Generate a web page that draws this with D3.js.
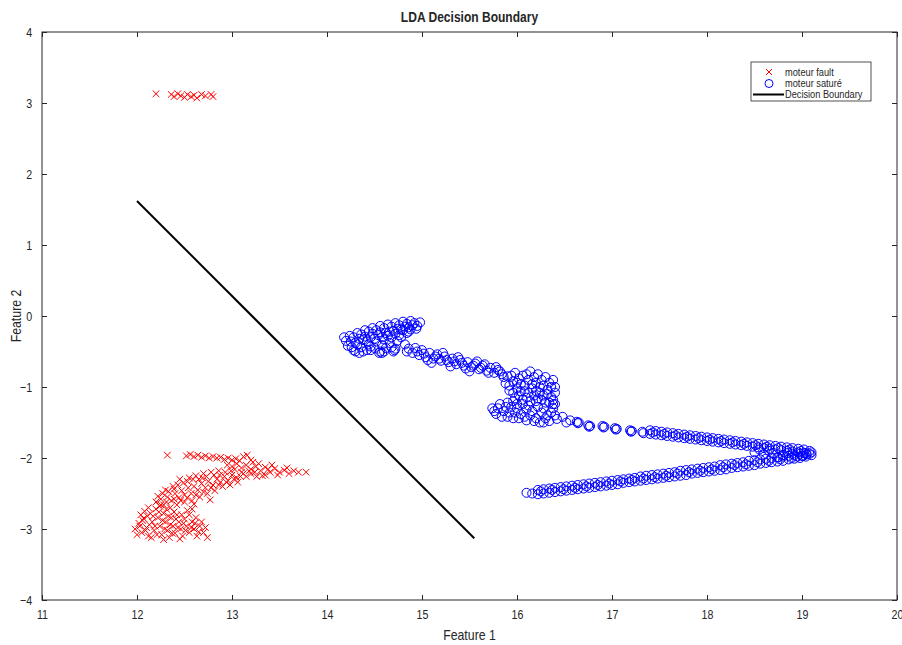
<!DOCTYPE html>
<html>
<head>
<meta charset="utf-8">
<script src="https://cdn.jsdelivr.net/npm/d3@7"></script>
<style>
body { margin: 0; background: #fff; }
svg { display: block; }
text { font-family: "Liberation Sans", Arial, sans-serif; fill: #262626; }
</style>
</head>
<body>
<svg id="chart" width="902" height="645"></svg>
<script>
const xTicks = [11, 12, 13, 14, 15, 16, 17, 18, 19, 20]
const yTicks = [-4, -3, -2, -1, 0, 1, 2, 3, 4]

// moteur fault
const faultTop = [
    [12.2, 3.13], [12.36, 3.12], [12.39, 3.09], [12.43, 3.13], [12.46, 3.1], [12.5, 3.08],
    [12.53, 3.12], [12.57, 3.09], [12.6, 3.11], [12.63, 3.07], [12.68, 3.12], [12.72, 3.1],
    [12.78, 3.12], [12.8, 3.09]
]
const faultUpperRow = [
    [12.32, -1.96], [12.52, -1.97], [12.56, -1.95], [12.6, -1.98], [12.64, -1.96], [12.68, -1.99],
    [12.72, -1.97], [12.76, -2.0], [12.8, -1.98], [12.84, -2.0], [12.88, -1.99], [12.92, -2.02],
    [12.96, -2.0], [13.0, -2.03], [13.04, -2.01], [13.08, -2.04], [13.12, -1.98], [13.16, -1.96],
    [13.2, -2.03]
]
const faultRightBand = [
    [12.95, -2.1], [13.0, -2.12], [13.05, -2.08], [13.1, -2.14], [13.15, -2.1], [13.2, -2.16],
    [13.25, -2.12], [13.3, -2.18], [13.35, -2.13], [13.4, -2.2], [13.45, -2.15], [13.5, -2.2],
    [13.55, -2.17], [13.6, -2.22], [13.65, -2.18], [13.7, -2.2], [13.78, -2.2], [13.22, -2.06],
    [13.28, -2.08], [13.42, -2.1], [13.12, -2.22], [13.32, -2.25], [13.38, -2.16], [13.48, -2.24],
    [13.58, -2.14], [13.18, -2.18], [13.24, -2.2]
]
const faultDiagonal = [
    [12.2, -2.62], [12.25, -2.58], [12.28, -2.66], [12.32, -2.55], [12.36, -2.6], [12.4, -2.5],
    [12.44, -2.56], [12.47, -2.46], [12.5, -2.52], [12.54, -2.42], [12.57, -2.5], [12.6, -2.4],
    [12.64, -2.45], [12.68, -2.36], [12.72, -2.42], [12.75, -2.33], [12.8, -2.38], [12.84, -2.3],
    [12.88, -2.34], [12.92, -2.26], [12.96, -2.32], [13.0, -2.24], [13.05, -2.28], [13.1, -2.2],
    [13.15, -2.26], [13.2, -2.22], [13.26, -2.26], [13.35, -2.24], [12.35, -2.7], [12.42, -2.66],
    [12.5, -2.62], [12.58, -2.6], [12.66, -2.55], [12.74, -2.5], [12.82, -2.46], [12.9, -2.4],
    [12.98, -2.38], [13.06, -2.34], [12.45, -2.3], [12.55, -2.28], [12.62, -2.25], [12.7, -2.22],
    [12.78, -2.2], [12.86, -2.18], [12.58, -2.72], [12.6, -2.65], [12.3, -2.45], [12.38, -2.4],
    [12.77, -2.59], [12.22, -2.54], [12.27, -2.5], [12.33, -2.47], [12.39, -2.44], [12.43, -2.38],
    [12.49, -2.35], [12.53, -2.33], [12.59, -2.3], [12.65, -2.3], [12.69, -2.28], [12.73, -2.26],
    [12.81, -2.24], [12.87, -2.24], [12.93, -2.2], [12.99, -2.18], [13.03, -2.16], [13.09, -2.26],
    [12.24, -2.68], [12.31, -2.62], [12.39, -2.58], [12.46, -2.6], [12.53, -2.56], [12.62, -2.52],
    [12.7, -2.48], [12.78, -2.42], [12.86, -2.38], [12.94, -2.34], [13.02, -2.3]
]
const faultBlob = [
    [11.98, -3.0], [12.02, -2.92], [12.05, -3.05], [12.07, -2.85], [12.1, -2.98], [12.12, -3.1],
    [12.14, -2.78], [12.16, -2.9], [12.18, -3.02], [12.2, -2.72], [12.22, -2.84], [12.24, -2.96],
    [12.26, -3.08], [12.28, -2.78], [12.3, -2.9], [12.32, -3.02], [12.34, -3.12], [12.36, -2.84],
    [12.38, -2.96], [12.4, -3.06], [12.42, -2.8], [12.44, -2.9], [12.46, -3.0], [12.48, -3.1],
    [12.5, -2.86], [12.52, -2.96], [12.55, -3.05], [12.58, -2.9], [12.6, -3.0], [12.63, -3.1],
    [12.66, -2.96], [12.7, -3.05], [12.74, -3.12], [12.08, -2.75], [12.12, -2.7], [12.25, -2.66],
    [12.04, -2.8], [12.0, -3.08], [12.15, -3.12], [12.45, -3.14], [12.28, -3.15], [12.55, -2.8],
    [12.62, -2.84], [12.03, -2.96], [12.06, -2.88], [12.09, -3.02], [12.11, -2.82], [12.13, -2.94],
    [12.17, -2.82], [12.19, -2.96], [12.21, -3.08], [12.23, -2.76], [12.27, -2.88], [12.29, -3.0],
    [12.31, -2.72], [12.33, -2.82], [12.35, -2.94], [12.37, -3.06], [12.39, -2.76], [12.41, -2.86],
    [12.43, -2.98], [12.47, -2.8], [12.49, -2.92], [12.51, -3.02], [12.53, -2.74], [12.57, -2.98],
    [12.61, -2.92], [12.65, -3.04], [12.68, -2.9], [12.72, -2.98]
]

// moteur saturé
const satureBlobA = [
    [14.2, -0.35], [14.28, -0.3], [14.36, -0.26], [14.44, -0.22], [14.52, -0.2], [14.6, -0.17],
    [14.68, -0.15], [14.76, -0.13], [14.84, -0.11], [14.92, -0.1], [14.22, -0.42], [14.3, -0.38],
    [14.38, -0.34], [14.46, -0.3], [14.54, -0.27], [14.62, -0.24], [14.7, -0.21], [14.78, -0.19],
    [14.86, -0.16], [14.95, -0.14], [14.28, -0.48], [14.36, -0.44], [14.44, -0.4], [14.52, -0.36],
    [14.6, -0.33], [14.68, -0.3], [14.76, -0.27], [14.84, -0.24], [14.34, -0.52], [14.42, -0.48],
    [14.5, -0.45], [14.58, -0.41], [14.66, -0.38], [14.74, -0.35], [14.18, -0.3], [14.25, -0.36],
    [14.4, -0.29], [14.48, -0.25], [14.56, -0.23], [14.64, -0.28], [14.72, -0.25], [14.8, -0.2],
    [14.88, -0.19], [14.32, -0.4], [14.46, -0.43], [14.55, -0.52], [14.56, -0.5], [14.7, -0.5],
    [14.71, -0.48], [14.98, -0.09], [14.24, -0.28], [14.32, -0.24], [14.4, -0.2], [14.48, -0.17],
    [14.56, -0.14], [14.64, -0.12], [14.72, -0.1], [14.8, -0.08], [14.88, -0.07], [14.26, -0.44],
    [14.34, -0.32], [14.42, -0.36], [14.5, -0.32], [14.58, -0.3], [14.66, -0.22], [14.74, -0.18],
    [14.82, -0.15], [14.9, -0.13], [14.3, -0.5], [14.38, -0.5], [14.46, -0.48], [14.62, -0.45],
    [14.78, -0.3], [14.86, -0.22], [14.94, -0.18], [14.6, -0.5], [14.58, -0.52], [14.72, -0.46],
    [14.68, -0.44]
]
const satureChain = [
    [14.82, -0.4], [14.86, -0.46], [14.9, -0.52], [14.93, -0.45], [14.97, -0.55], [15.0, -0.48],
    [15.04, -0.58], [15.08, -0.52], [15.12, -0.6], [15.16, -0.54], [15.2, -0.63], [15.24, -0.57],
    [15.28, -0.65], [15.32, -0.6], [15.36, -0.68], [15.4, -0.62], [15.44, -0.7], [15.48, -0.65],
    [15.52, -0.72], [15.56, -0.67], [15.6, -0.75], [15.64, -0.7], [15.68, -0.77], [15.72, -0.73],
    [15.76, -0.8], [15.8, -0.76], [15.84, -0.82], [15.1, -0.66], [15.3, -0.71], [15.5, -0.78],
    [14.84, -0.5], [14.95, -0.5], [15.02, -0.53], [15.06, -0.62], [15.14, -0.57], [15.18, -0.6],
    [15.22, -0.52], [15.26, -0.62], [15.34, -0.64], [15.38, -0.58], [15.42, -0.66], [15.46, -0.74],
    [15.54, -0.7], [15.58, -0.64], [15.62, -0.73], [15.66, -0.68], [15.7, -0.8], [15.78, -0.72],
    [15.82, -0.78], [15.86, -0.86]
]
const satureBlobB = [
    [15.9, -0.85], [15.98, -0.8], [16.06, -0.84], [16.14, -0.78], [16.22, -0.82], [16.3, -0.86],
    [16.38, -0.9], [15.88, -0.95], [15.96, -0.92], [16.04, -0.96], [16.12, -0.9], [16.2, -0.94],
    [16.28, -0.98], [16.36, -1.0], [16.4, -1.08], [15.92, -1.05], [16.0, -1.02], [16.08, -1.06],
    [16.16, -1.02], [16.24, -1.08], [16.32, -1.1], [16.02, -1.12], [16.1, -1.15], [16.18, -1.12],
    [16.26, -1.18], [16.38, -1.18], [15.74, -1.3], [15.78, -1.38], [15.82, -1.24], [15.86, -1.34],
    [15.9, -1.42], [15.94, -1.28], [15.98, -1.36], [16.02, -1.44], [16.06, -1.24], [16.1, -1.32],
    [16.14, -1.4], [16.18, -1.48], [16.22, -1.28], [16.26, -1.36], [16.3, -1.44], [16.34, -1.22],
    [16.38, -1.3], [15.96, -1.2], [16.2, -1.2], [16.28, -1.5], [16.1, -1.47], [16.4, -1.4],
    [15.94, -0.84], [16.02, -0.88], [16.1, -0.82], [16.18, -0.86], [16.26, -0.9], [16.34, -0.94],
    [15.92, -0.98], [16.0, -0.94], [16.08, -0.98], [16.16, -0.96], [16.24, -1.0], [16.32, -1.04],
    [16.4, -1.0], [15.96, -1.08], [16.04, -1.06], [16.12, -1.08], [16.2, -1.06], [16.28, -1.12],
    [16.36, -1.14], [15.98, -1.16], [16.06, -1.18], [16.14, -1.2], [16.22, -1.16], [16.3, -1.22],
    [16.38, -1.24], [15.76, -1.34], [15.8, -1.3], [15.84, -1.42], [15.88, -1.28], [15.92, -1.36],
    [15.96, -1.44], [16.0, -1.3], [16.04, -1.38], [16.08, -1.42], [16.12, -1.26], [16.16, -1.34],
    [16.2, -1.44], [16.24, -1.5], [16.28, -1.3], [16.32, -1.4], [16.36, -1.36], [16.4, -1.24],
    [15.9, -1.22], [16.0, -1.24], [16.34, -1.48]
]
const satureTail = [
    [16.42, -1.45], [16.48, -1.42], [16.52, -1.5], [16.56, -1.47], [16.63, -1.49], [16.64, -1.51],
    [16.65, -1.5], [16.75, -1.54], [16.76, -1.56], [16.77, -1.55], [16.9, -1.55], [16.91, -1.57],
    [16.92, -1.56], [17.03, -1.58], [17.04, -1.6], [17.05, -1.59], [17.19, -1.61], [17.2, -1.63],
    [17.21, -1.62], [17.32, -1.63], [17.33, -1.65]
]
const satureUpperBand = [
    [17.4, -1.61], [17.4, -1.66], [17.46, -1.62], [17.46, -1.67], [17.52, -1.63], [17.52, -1.68],
    [17.58, -1.64], [17.58, -1.69], [17.64, -1.65], [17.64, -1.7], [17.7, -1.66], [17.7, -1.71],
    [17.76, -1.67], [17.76, -1.72], [17.82, -1.68], [17.82, -1.73], [17.88, -1.69], [17.88, -1.74],
    [17.94, -1.7], [17.94, -1.75], [18.0, -1.71], [18.0, -1.76], [18.06, -1.72], [18.06, -1.77],
    [18.12, -1.73], [18.12, -1.78], [18.18, -1.74], [18.18, -1.79], [18.24, -1.75], [18.24, -1.8],
    [18.3, -1.76], [18.3, -1.81], [18.36, -1.77], [18.36, -1.82], [18.42, -1.78], [18.42, -1.83],
    [18.48, -1.79], [18.48, -1.84], [18.54, -1.8], [18.54, -1.85], [18.6, -1.81], [18.6, -1.86],
    [18.66, -1.82], [18.66, -1.87], [18.72, -1.83], [18.72, -1.88], [18.78, -1.84], [18.78, -1.89],
    [18.84, -1.85], [18.84, -1.9], [18.9, -1.86], [18.9, -1.91], [18.96, -1.87], [18.96, -1.92],
    [19.02, -1.88], [19.02, -1.93], [19.08, -1.9], [19.08, -1.94], [18.5, -1.92], [18.6, -1.95],
    [18.7, -1.93], [18.8, -1.96], [18.9, -1.94], [19.0, -1.97], [18.55, -1.88], [18.65, -1.9],
    [18.75, -1.99], [18.85, -1.93], [18.95, -1.98], [19.05, -1.95], [17.43, -1.64], [17.55, -1.66],
    [17.67, -1.68], [17.79, -1.7], [17.91, -1.72], [18.03, -1.74], [18.15, -1.76], [18.27, -1.78],
    [18.39, -1.8], [18.51, -1.82], [18.63, -1.84], [18.75, -1.86], [18.87, -1.88], [18.99, -1.9]
]
const satureLowerBand = [
    [16.1, -2.49], [16.16, -2.5], [16.22, -2.45], [16.22, -2.51], [16.28, -2.44], [16.28, -2.5],
    [16.34, -2.43], [16.34, -2.49], [16.4, -2.42], [16.4, -2.48], [16.46, -2.41], [16.46, -2.47],
    [16.52, -2.4], [16.52, -2.46], [16.58, -2.39], [16.58, -2.45], [16.64, -2.38], [16.64, -2.44],
    [16.7, -2.37], [16.7, -2.43], [16.76, -2.36], [16.76, -2.42], [16.82, -2.35], [16.82, -2.41],
    [16.88, -2.34], [16.88, -2.4], [16.94, -2.33], [16.94, -2.39], [17.0, -2.32], [17.0, -2.38],
    [17.06, -2.31], [17.06, -2.37], [17.12, -2.3], [17.12, -2.35], [17.18, -2.29], [17.18, -2.34],
    [17.24, -2.28], [17.24, -2.33], [17.3, -2.26], [17.3, -2.32], [17.36, -2.25], [17.36, -2.31],
    [17.42, -2.24], [17.42, -2.3], [17.48, -2.23], [17.48, -2.29], [17.54, -2.22], [17.54, -2.28],
    [17.6, -2.21], [17.6, -2.27], [17.66, -2.2], [17.66, -2.26], [17.72, -2.18], [17.72, -2.25],
    [17.78, -2.17], [17.78, -2.24], [17.84, -2.16], [17.84, -2.22], [17.9, -2.15], [17.9, -2.21],
    [17.96, -2.14], [17.96, -2.2], [18.02, -2.13], [18.02, -2.19], [18.08, -2.12], [18.08, -2.18],
    [18.14, -2.1], [18.14, -2.17], [18.2, -2.09], [18.2, -2.16], [18.26, -2.08], [18.26, -2.14],
    [18.32, -2.07], [18.32, -2.13], [18.38, -2.06], [18.38, -2.12], [18.44, -2.04], [18.44, -2.11],
    [18.5, -2.03], [18.5, -2.1], [18.56, -2.02], [18.56, -2.08], [18.62, -2.01], [18.62, -2.07],
    [18.68, -2.0], [18.68, -2.06], [18.74, -1.99], [18.74, -2.05], [18.8, -1.98], [18.8, -2.04],
    [18.86, -1.97], [18.86, -2.02], [18.92, -1.96], [18.92, -2.01], [18.98, -1.94], [18.98, -2.0],
    [19.04, -1.93], [19.04, -1.98], [19.1, -1.92], [19.1, -1.96], [16.25, -2.47], [16.37, -2.45],
    [16.49, -2.44], [16.61, -2.42], [16.73, -2.4], [16.85, -2.38], [16.97, -2.36], [17.09, -2.33],
    [17.21, -2.31], [17.33, -2.29], [17.45, -2.27], [17.57, -2.25], [17.69, -2.22], [17.81, -2.2],
    [17.93, -2.18], [18.05, -2.16], [18.17, -2.13], [18.29, -2.1], [18.41, -2.09], [18.53, -2.06],
    [18.65, -2.04], [18.77, -2.02], [18.89, -2.0], [19.01, -1.97]
]

const boundaryLine = [[12.0, 1.62], [15.55, -3.13]]

const legendLabels = ['moteur fault', 'moteur saturé', 'Decision Boundary']

const faultPoints = [...faultTop, ...faultUpperRow, ...faultRightBand, ...faultDiagonal, ...faultBlob]
const saturePoints = [...satureBlobA, ...satureChain, ...satureBlobB, ...satureTail,
    ...satureUpperBand, ...satureLowerBand]

const margin = { left: 42, right: 897, top: 32, bottom: 600 }
const axisColor = '#262626'
const squeeze = 0.82 // the reference text is horizontally condensed

const svg = d3.select('#chart')

const x = d3.scaleLinear().domain([11, 20]).range([margin.left, margin.right])
const y = d3.scaleLinear().domain([-4, 4]).range([margin.bottom, margin.top])

// box
svg.append('rect')
    .attr('x', margin.left)
    .attr('y', margin.top)
    .attr('width', margin.right - margin.left)
    .attr('height', margin.bottom - margin.top)
    .attr('fill', '#fff')
    .attr('stroke', axisColor)
    .attr('stroke-width', 1)

function styleAxis(g) {
    g.select('.domain').remove()
    g.selectAll('.tick line').attr('stroke', axisColor)
    g.selectAll('.tick text')
        .attr('fill', axisColor)
        .style('font-size', '13px')
        .attr('transform', `scale(${squeeze},1)`)
}

svg.append('g')
    .attr('transform', `translate(0,${margin.bottom})`)
    .call(d3.axisBottom(x).tickValues(xTicks).tickSizeInner(-5).tickSizeOuter(0).tickPadding(10))
    .call(styleAxis)

svg.append('g')
    .attr('transform', `translate(0,${margin.top})`)
    .call(d3.axisTop(x).tickValues(xTicks).tickSizeInner(-5).tickSizeOuter(0).tickFormat(''))
    .call(styleAxis)

svg.append('g')
    .attr('transform', `translate(${margin.left},0)`)
    .call(d3.axisLeft(y).tickValues(yTicks).tickSizeInner(-5).tickSizeOuter(0).tickPadding(12))
    .call(styleAxis)

svg.append('g')
    .attr('transform', `translate(${margin.right},0)`)
    .call(d3.axisRight(y).tickValues(yTicks).tickSizeInner(-5).tickSizeOuter(0).tickFormat(''))
    .call(styleAxis)

const xMark = (cx, cy, s) => `M${cx - s},${cy - s}L${cx + s},${cy + s}M${cx - s},${cy + s}L${cx + s},${cy - s}`

// fault markers
svg.append('g')
    .selectAll('path')
    .data(faultPoints)
    .enter()
    .append('path')
    .attr('d', d => xMark(x(d[0]), y(d[1]), 3.3))
    .attr('stroke', '#ff0000')
    .attr('stroke-width', 1)
    .attr('fill', 'none')

// saturé markers
svg.append('g')
    .selectAll('circle')
    .data(saturePoints)
    .enter()
    .append('circle')
    .attr('cx', d => x(d[0]))
    .attr('cy', d => y(d[1]))
    .attr('r', 4.5)
    .attr('fill', 'none')
    .attr('stroke', '#0000ff')
    .attr('stroke-width', 1)

// decision boundary
svg.append('path')
    .datum(boundaryLine)
    .attr('d', d3.line().x(d => x(d[0])).y(d => y(d[1])))
    .attr('stroke', '#000')
    .attr('stroke-width', 2)
    .attr('fill', 'none')

// titles
const midX = (margin.left + margin.right) / 2
svg.append('text')
    .attr('transform', `translate(${midX},22) scale(0.86,1)`)
    .attr('text-anchor', 'middle')
    .style('font-size', '14px')
    .style('font-weight', 'bold')
    .attr('fill', '#000')
    .text('LDA Decision Boundary')

svg.append('text')
    .attr('transform', `translate(${midX},640) scale(0.88,1)`)
    .attr('text-anchor', 'middle')
    .style('font-size', '14px')
    .text('Feature 1')

svg.append('text')
    .attr('transform', `translate(21,${(margin.top + margin.bottom) / 2}) rotate(-90) scale(0.88,1)`)
    .attr('text-anchor', 'middle')
    .style('font-size', '14px')
    .text('Feature 2')

// legend
const legend = svg.append('g').attr('transform', 'translate(751,62)')
legend.append('rect')
    .attr('width', 120)
    .attr('height', 39)
    .attr('fill', '#fff')
    .attr('stroke', axisColor)
    .attr('stroke-width', 0.8)

const rowY = [10, 21.5, 32.5]
legend.append('path')
    .attr('d', xMark(18, rowY[0], 3))
    .attr('stroke', '#ff0000')
    .attr('stroke-width', 1)
legend.append('circle')
    .attr('cx', 18).attr('cy', rowY[1]).attr('r', 4)
    .attr('fill', 'none').attr('stroke', '#0000ff').attr('stroke-width', 1)
legend.append('line')
    .attr('x1', 2).attr('x2', 33).attr('y1', rowY[2]).attr('y2', rowY[2])
    .attr('stroke', '#000').attr('stroke-width', 2)

legend.selectAll('text.lbl')
    .data(legendLabels)
    .enter()
    .append('text')
    .attr('class', 'lbl')
    .attr('transform', (d, i) => `translate(34,${rowY[i] + 3.5}) scale(0.88,1)`)
    .style('font-size', '10.5px')
    .attr('fill', '#000')
    .text(d => d)
</script>
</body>
</html>
